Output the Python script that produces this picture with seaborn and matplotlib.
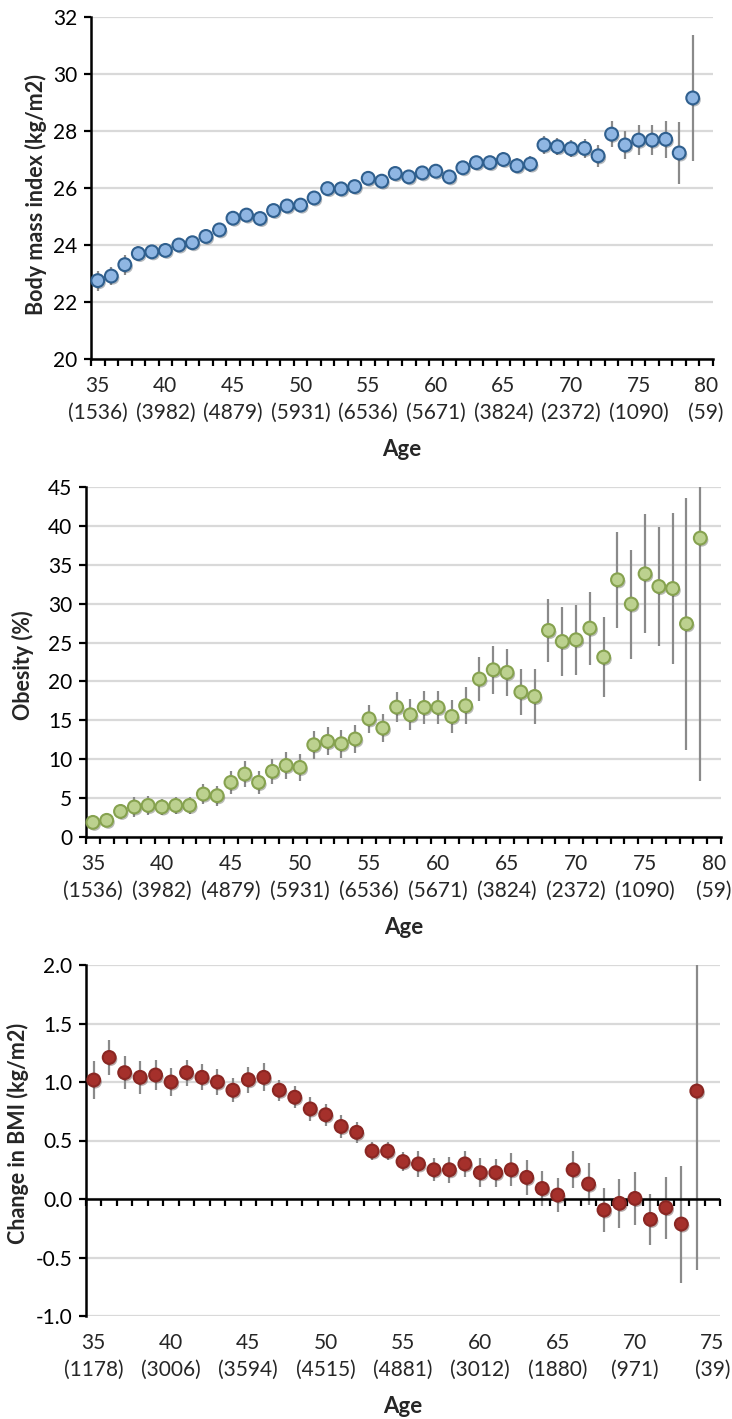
import numpy as np
import pandas as pd
import matplotlib
matplotlib.use("Agg")
import matplotlib.pyplot as plt
import matplotlib.patheffects as pe
import seaborn as sns

# ---------------- data ----------------
ages_a = list(range(35, 80))          # panels 1 & 2
bmi = [22.75, 22.91, 23.31, 23.70, 23.76, 23.81, 24.00, 24.08, 24.30, 24.53,
       24.94, 25.05, 24.93, 25.21, 25.37, 25.40, 25.65, 25.98, 25.97, 26.05,
       26.34, 26.24, 26.51, 26.39, 26.53, 26.59, 26.39, 26.71, 26.89, 26.89,
       27.00, 26.78, 26.84, 27.51, 27.45, 27.38, 27.39, 27.13, 27.89, 27.51,
       27.68, 27.68, 27.71, 27.23, 29.16]
bmi_err = [0.35, 0.33, 0.35, 0.27, 0.25, 0.22, 0.22, 0.20, 0.22, 0.22,
           0.20, 0.20, 0.20, 0.20, 0.20, 0.20, 0.20, 0.20, 0.20, 0.20,
           0.20, 0.20, 0.20, 0.22, 0.22, 0.22, 0.22, 0.24, 0.24, 0.24,
           0.26, 0.26, 0.28, 0.32, 0.30, 0.30, 0.32, 0.39, 0.46, 0.50,
           0.53, 0.53, 0.65, 1.10, 2.20]
obesity = [1.88, 2.14, 3.29, 3.86, 4.06, 3.86, 4.06, 4.06, 5.52, 5.31,
           7.02, 8.09, 7.02, 8.44, 9.20, 8.95, 11.86, 12.29, 11.99, 12.60,
           15.20, 14.00, 16.70, 15.72, 16.66, 16.66, 15.50, 16.88, 20.31, 21.50,
           21.16, 18.64, 18.07, 26.56, 25.14, 25.36, 26.86, 23.13, 33.07, 29.95,
           33.84, 32.21, 31.95, 27.42, 38.43]
obesity_err = [0.8, 0.8, 1.0, 1.25, 1.2, 1.0, 1.1, 1.1, 1.3, 1.3,
               1.5, 1.7, 1.5, 1.6, 1.7, 1.7, 1.8, 1.8, 1.8, 1.8,
               1.8, 1.8, 1.9, 2.0, 2.1, 2.1, 2.1, 2.4, 2.85, 3.1,
               3.06, 3.0, 3.5, 4.1, 4.4, 4.5, 4.7, 5.1, 6.2, 7.0,
               7.65, 7.7, 9.7, 16.2, 31.2]
ages_b = list(range(35, 75))          # panel 3
dbmi = [1.017, 1.21, 1.08, 1.04, 1.06, 1.00, 1.08, 1.04, 1.00, 0.93,
        1.02, 1.04, 0.93, 0.87, 0.77, 0.72, 0.62, 0.57, 0.41, 0.41,
        0.32, 0.30, 0.25, 0.25, 0.30, 0.225, 0.225, 0.25, 0.185, 0.09,
        0.034, 0.25, 0.128, -0.094, -0.037, 0.005, -0.174, -0.074, -0.214, 0.923]
dbmi_err = [0.165, 0.147, 0.14, 0.14, 0.13, 0.12, 0.11, 0.11, 0.11, 0.10,
            0.11, 0.12, 0.09, 0.095, 0.10, 0.095, 0.10, 0.09, 0.08, 0.08,
            0.08, 0.11, 0.10, 0.11, 0.11, 0.125, 0.12, 0.14, 0.15, 0.15,
            0.145, 0.16, 0.18, 0.19, 0.21, 0.225, 0.22, 0.265, 0.50, 1.53]

tick_ages_a = [35, 40, 45, 50, 55, 60, 65, 70, 75, 80]
tick_n_a = ["1536", "3982", "4879", "5931", "6536", "5671", "3824", "2372", "1090", "59"]
tick_ages_b = [35, 40, 45, 50, 55, 60, 65, 70, 75]
tick_n_b = ["1178", "3006", "3594", "4515", "4881", "3012", "1880", "971", "39"]

# ---------------- style ----------------
sns.set_theme(style="white")
plt.rcParams["font.family"] = ["Lato", "DejaVu Sans"]
plt.rcParams["axes.unicode_minus"] = False

W, H = 732, 1419
fig = plt.figure(figsize=(W / 100, H / 100), dpi=100)


def add_ax(left, top, right, bottom):
    return fig.add_axes([left / W, 1 - bottom / H, (right - left) / W, (bottom - top) / H])


GRID = "#d9d9d9"
ERR = "#8a8a8a"
TFS = 15
LFS = 15.5


def style(ax, xmax, ylim, yticks, yfmt, ylabel, ylab_x, ylab_y, ticks, ns, zero_axis=False):
    ax.set_xlim(34.5, xmax + 0.5)
    ax.set_ylim(*ylim)
    ax.set_yticks(yticks)
    ax.set_yticklabels([yfmt.format(v) for v in yticks], fontsize=TFS)
    ax.yaxis.grid(True, color=GRID, linewidth=1.6)
    ax.xaxis.grid(False)
    ax.set_axisbelow(True)
    for s in ["top", "right"]:
        ax.spines[s].set_visible(False)
    ax.spines["left"].set_color("black")
    ax.spines["left"].set_linewidth(1.8)
    ax.tick_params(axis="y", which="major", left=True, direction="out", length=5,
                   width=1.6, color="black", pad=5, labelcolor="black")
    minor = np.arange(34.5, xmax + 0.51, 1.0)
    labels = [f"{a}\n({n})" for a, n in zip(ticks, ns)]
    if not zero_axis:
        ax.spines["bottom"].set_color("black")
        ax.spines["bottom"].set_linewidth(1.8)
        ax.set_xticks(minor, minor=True)
        ax.set_xticks(ticks)
        tl = ax.set_xticklabels(labels, fontsize=TFS)
        ax.tick_params(axis="x", which="minor", bottom=True, direction="out",
                       length=5, width=1.6, color="black")
        ax.tick_params(axis="x", which="major", bottom=True, length=0, pad=12)
    else:
        ax.spines["bottom"].set_visible(False)
        ax.set_xticks(ticks)
        tl = ax.set_xticklabels(labels, fontsize=TFS)
        ax.tick_params(axis="x", which="major", bottom=True, length=0, pad=12)
        ax.axhline(0, color="black", linewidth=1.8, zorder=2.5)
        sec = ax.secondary_xaxis(1.0 / 3.0)
        sec.spines["bottom"].set_visible(False)
        sec.set_xticks(minor)
        sec.set_xticklabels([])
        sec.tick_params(axis="x", which="major", direction="out", length=5,
                        width=1.6, color="black")
    for t in tl:
        t.set_linespacing(1.45)
    ax.set_ylabel(ylabel, fontsize=LFS, fontweight="bold")
    ax.yaxis.set_label_coords(ylab_x, ylab_y)


def draw(ax, x, y, err, face, edge):
    ax.errorbar(x, y, yerr=err, fmt="none", ecolor=ERR, elinewidth=1.6, capsize=0, zorder=2)
    df = pd.DataFrame({"age": x, "val": y})
    sns.scatterplot(data=df, x="age", y="val", ax=ax, s=85, color=face,
                    edgecolor=edge, linewidth=1.5, zorder=3, legend=False, clip_on=False)
    coll = ax.collections[-1]
    coll.set_path_effects([pe.SimplePatchShadow(offset=(1.2, -1.5), alpha=0.35), pe.Normal()])


# Panel 1
ax1 = add_ax(91, 17, 713, 359)
draw(ax1, ages_a, bmi, bmi_err, "#8fb6e3", "#2f5f8e")
style(ax1, 80, (20, 32), [20, 22, 24, 26, 28, 30, 32], "{:d}",
      "Body mass index (kg/m2)", -0.07, 0.48, tick_ages_a, tick_n_a)

# Panel 2
ax2 = add_ax(86, 487, 721, 837)
draw(ax2, ages_a, obesity, obesity_err, "#bcd18f", "#86a24f")
style(ax2, 80, (0, 45), list(range(0, 46, 5)), "{:d}",
      "Obesity (%)", -0.082, 0.49, tick_ages_a, tick_n_a)

# Panel 3
ax3 = add_ax(86, 965, 720, 1316)
draw(ax3, ages_b, dbmi, dbmi_err, "#a5302b", "#8a2723")
style(ax3, 75, (-1.0, 2.0), [-1.0, -0.5, 0.0, 0.5, 1.0, 1.5, 2.0], "{:.1f}",
      "Change in BMI (kg/m2)", -0.09, 0.52, tick_ages_b, tick_n_b, zero_axis=True)

for ax in (ax1, ax2, ax3):
    ax.set_xlabel("Age", fontsize=16, fontweight="bold")
ax1.xaxis.set_label_coords(0.5, -0.235)
ax2.xaxis.set_label_coords(0.5, -0.229)
ax3.xaxis.set_label_coords(0.5, -0.227)

fig.savefig("out.png", dpi=100, facecolor="white")
